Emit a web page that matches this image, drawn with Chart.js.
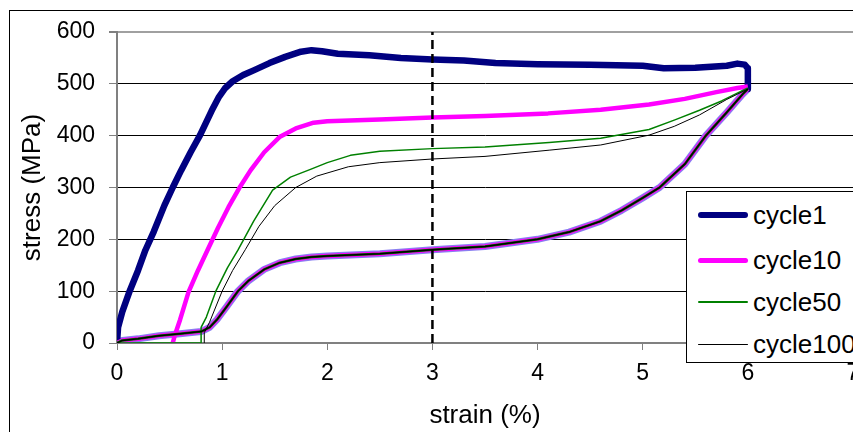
<!DOCTYPE html>
<html>
<head>
<meta charset="utf-8">
<script src="https://cdn.jsdelivr.net/npm/chart.js@4"></script>
<style>
    html, body { margin: 0; padding: 0; background: #fff; overflow: hidden; }
    #frame { position: absolute; left: 9px; top: 10px; width: 900px; height: 500px; border: 1px solid #000; }
    #wrap { position: absolute; left: 0; top: 0; width: 880px; height: 432px; }
    #legend {
        position: absolute; left: 686px; top: 191px; width: 200px; height: 170px;
        border: 1px solid #000; background: #fff;
        font-family: "Liberation Sans", Arial, sans-serif; font-size: 26px; color: #000;
    }
    .item { position: absolute; left: 0; width: 200px; height: 30px; }
    .item .swatch { position: absolute; left: 11px; width: 50px; border-radius: 3px; }
    .item .label { position: absolute; left: 66px; top: 0; line-height: 30px; white-space: nowrap; }
</style>
</head>
<body>
<div id="frame"></div>
<div id="wrap"><canvas id="chart" width="880" height="432"></canvas></div>
<div id="legend"></div>
<script>
// series names
const seriesNames = ['cycle1', 'cycle10', 'cycle50', 'cycle100'];

// cycle 1 (loading)
const cycle1Strain = [0, 0.01, 0.05, 0.12, 0.2, 0.27, 0.35, 0.45, 0.53, 0.61, 0.7, 0.79, 0.9, 0.97, 1.03, 1.1, 1.2, 1.3, 1.45, 1.6, 1.75, 1.85, 1.95, 2.1, 2.4, 2.7, 3.0, 3.3, 3.6, 4.0, 4.5, 5.0, 5.2, 5.5, 5.8, 5.9, 5.97, 6.0, 6.0];
const cycle1Stress = [0, 30, 60, 100, 140, 179, 215, 265, 300, 333, 368, 401, 448, 475, 492, 505, 517, 526, 540, 552, 562, 565, 563, 558, 555, 550, 547, 545, 540, 538, 537, 535, 530, 531, 535, 539, 537, 530, 490];

// cycle 10 (loading)
const cycle10Strain = [0.53, 0.55, 0.6, 0.68, 0.77, 0.86, 0.96, 1.06, 1.16, 1.27, 1.4, 1.55, 1.7, 1.87, 2.0, 2.5, 3.0, 3.5, 4.1, 4.6, 5.06, 5.4, 5.7, 5.9, 6.0];
const cycle10Stress = [0, 15, 45, 98, 140, 179, 222, 262, 298, 333, 368, 398, 414, 425, 428, 431, 435, 438, 443, 450, 460, 471, 484, 492, 495];

// cycle 50 (loading)
const cycle50Strain = [0, 0.8, 0.8, 0.85, 0.94, 1.05, 1.15, 1.3, 1.48, 1.65, 1.84, 2.0, 2.22, 2.5, 3.0, 3.5, 4.11, 4.6, 5.06, 5.3, 5.54, 5.75, 5.89, 6.0];
const cycle50Stress = [0, 0, 30, 50, 100, 145, 179, 235, 295, 320, 335, 348, 362, 370, 375, 378, 387, 395, 412, 430, 449, 467, 481, 492];

// cycle 100 (loading)
const cycle100Strain = [0.83, 0.83, 0.88, 1.0, 1.1, 1.22, 1.35, 1.5, 1.7, 1.9, 2.2, 2.5, 3.0, 3.5, 4.11, 4.6, 5.06, 5.3, 5.54, 5.8, 6.0];
const cycle100Stress = [0, 20, 40, 100, 140, 180, 225, 265, 300, 322, 340, 348, 355, 360, 372, 382, 401, 418, 440, 470, 490];

// shared unloading branch
const unloadStrain = [0, 0.05, 0.2, 0.4, 0.6, 0.8, 0.88, 0.95, 1.05, 1.15, 1.25, 1.4, 1.55, 1.7, 1.85, 2.0, 2.5, 3.0, 3.5, 4.0, 4.3, 4.6, 4.8, 5.0, 5.16, 5.4, 5.6, 5.8, 5.95, 6.0];
const unloadStress = [0, 5, 8, 14, 18, 22, 30, 45, 72, 100, 120, 142, 155, 162, 166, 168, 172, 180, 186, 200, 214, 235, 256, 280, 300, 345, 400, 445, 480, 490];

// dashed marker at 3 %
const markerStrain = [3, 3];
const markerStress = [0, 600];

function pts(xs, ys) {
    return xs.map((x, i) => ({ x: x, y: ys[i] }));
}

const styles = {
    cycle1: { color: '#000080', width: 6.5, legendWidth: 6 },
    cycle10: { color: '#ff00ff', width: 4.5, legendWidth: 5 },
    cycle50: { color: '#008000', width: 1.5, legendWidth: 2 },
    cycle100: { color: '#000000', width: 1, legendWidth: 1 }
};

function line(data, color, width, order, dash) {
    return {
        data: data,
        showLine: true,
        borderColor: color,
        borderWidth: width,
        borderDash: dash || [],
        pointRadius: 0,
        tension: 0,
        borderJoinStyle: 'round',
        order: order
    };
}

const unload = pts(unloadStrain, unloadStress);

const datasets = [
    line(pts(markerStrain, markerStress), '#000', 2.5, 0, [9, 5]),
    line(pts(cycle100Strain, cycle100Stress), styles.cycle100.color, styles.cycle100.width, 1),
    line(unload, '#000', 1.5, 1),
    line(pts(cycle50Strain, cycle50Stress), styles.cycle50.color, styles.cycle50.width, 2),
    line(unload, styles.cycle50.color, 2.5, 2),
    line(pts(cycle10Strain, cycle10Stress), styles.cycle10.color, styles.cycle10.width, 3),
    line(unload, styles.cycle10.color, 4.5, 3),
    line(pts(cycle1Strain, cycle1Stress), styles.cycle1.color, styles.cycle1.width, 4),
    line(unload, '#8a7ff0', 7, 5)
];

const fam = '"Liberation Sans", Arial, sans-serif';
const tickFont = { family: fam, size: 23 };
const titleFont = { family: fam, size: 26 };

new Chart(document.getElementById('chart'), {
    type: 'scatter',
    data: { datasets: datasets },
    options: {
        responsive: false,
        animation: false,
        layout: { padding: { left: 0, top: 32, right: 27, bottom: 0 } },
        plugins: { legend: { display: false }, tooltip: { enabled: false } },
        scales: {
            x: {
                type: 'linear', min: 0, max: 7,
                ticks: { stepSize: 1, color: '#000', font: tickFont, padding: 10, maxRotation: 0 },
                grid: { drawOnChartArea: false, color: '#808080', tickLength: 7 },
                border: { color: '#808080', width: 2 },
                title: { display: true, text: 'strain (%)', color: '#000', font: titleFont, padding: { top: 0, bottom: 1 } },
                afterFit: s => { s.height = 89; }
            },
            y: {
                type: 'linear', min: 0, max: 600,
                ticks: { stepSize: 100, color: '#000', font: tickFont, padding: 14 },
                grid: {
                    color: c => (c.tick.value === 600 ? '#a0a0a0' : (c.tick.value === 0 ? '#808080' : '#000')),
                    lineWidth: c => (c.tick.value === 600 ? 2 : 1),
                    tickColor: '#808080', tickLength: 8
                },
                border: { color: '#808080', width: 2 },
                title: { display: true, text: 'stress (MPa)', color: '#000', font: titleFont, padding: { top: 17, bottom: 0 } },
                afterFit: s => { s.width = 117; }
            }
        }
    }
});

// legend
const legend = document.getElementById('legend');
const rowTops = [23, 68, 110, 152];
seriesNames.forEach((name, i) => {
    const st = styles[name];
    const item = document.createElement('div');
    item.className = 'item';
    item.style.top = (rowTops[i] - 15) + 'px';
    const sw = document.createElement('span');
    sw.className = 'swatch';
    sw.style.background = st.color;
    sw.style.height = st.legendWidth + 'px';
    sw.style.top = (15 - st.legendWidth / 2) + 'px';
    const lb = document.createElement('span');
    lb.className = 'label';
    lb.textContent = name;
    item.appendChild(sw);
    item.appendChild(lb);
    legend.appendChild(item);
});
</script>
</body>
</html>
